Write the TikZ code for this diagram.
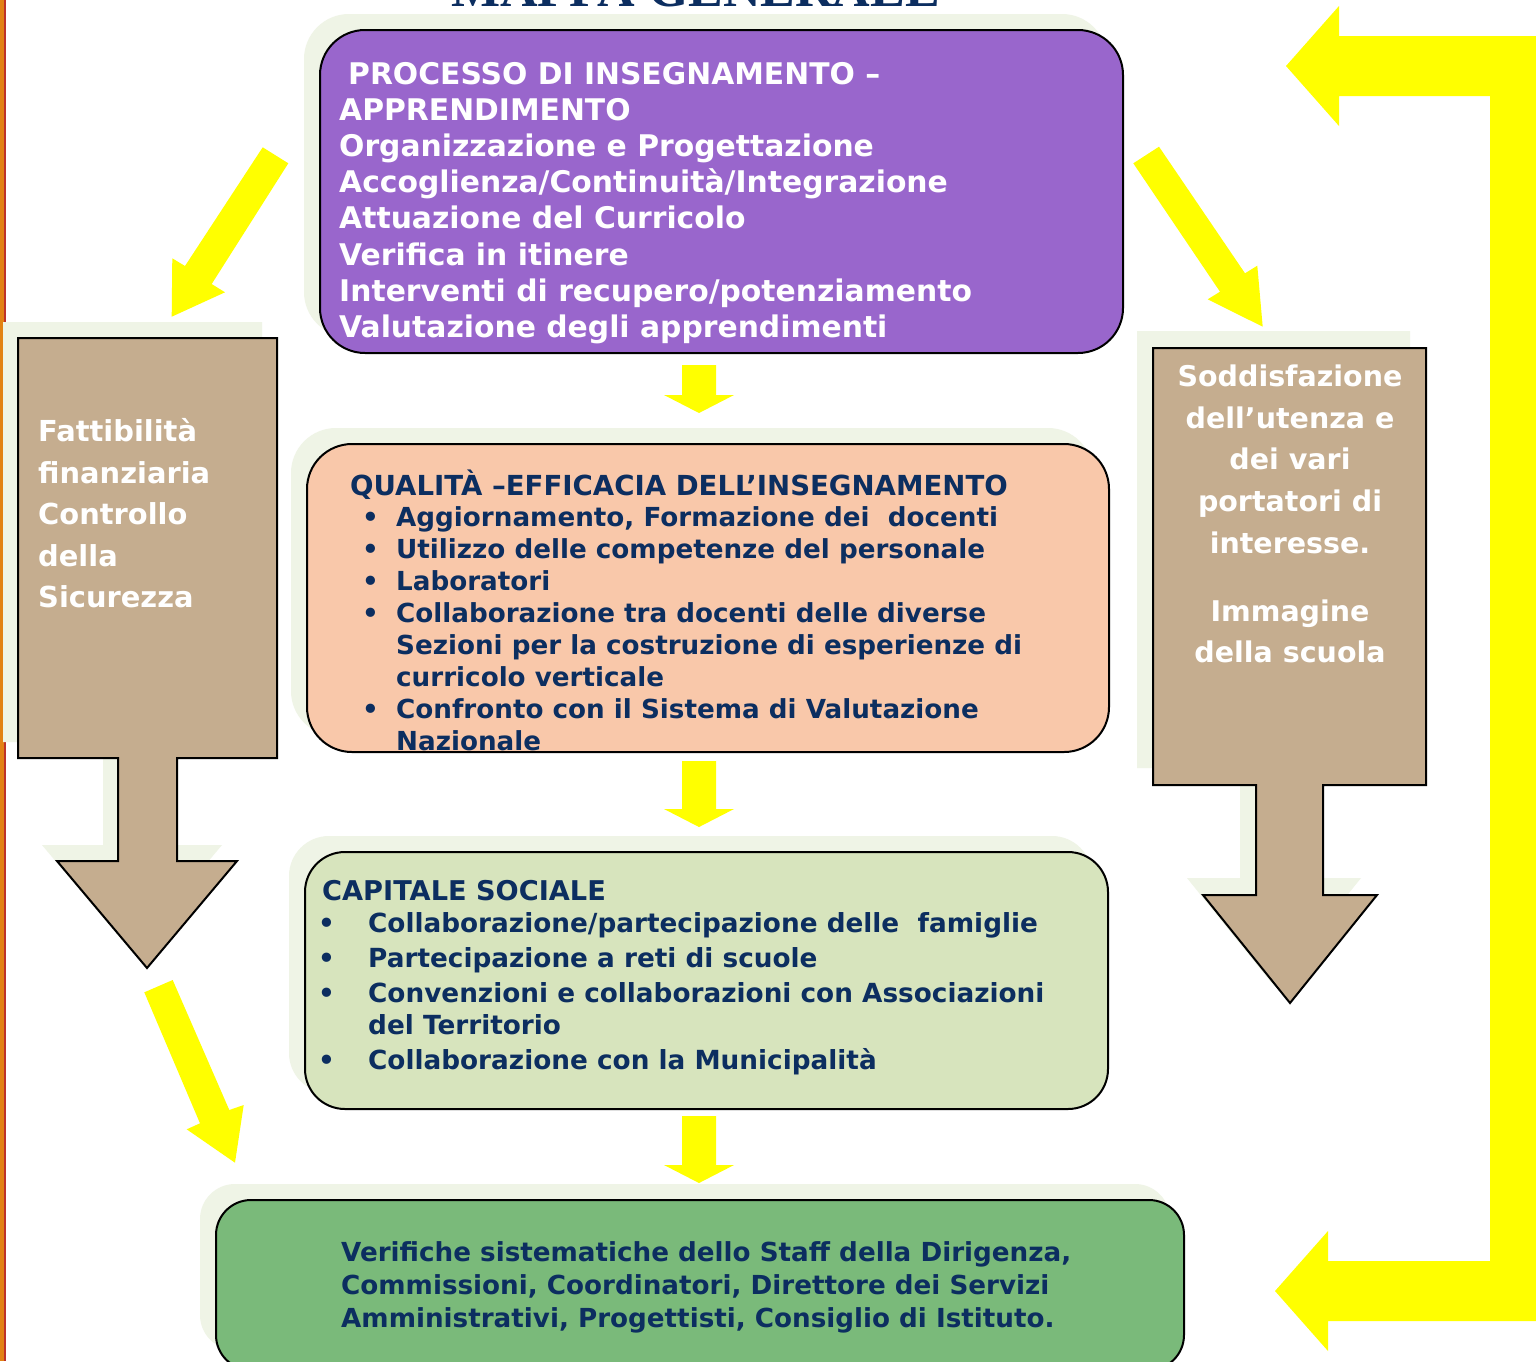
\documentclass[tikz,border=0pt]{standalone}
\usepackage{fontspec}
\setmainfont{DejaVu Sans}
\newfontfamily\titlefont{Liberation Serif}
\definecolor{navy}{RGB}{12,46,96}
\definecolor{purp}{RGB}{153,102,204}
\definecolor{peach}{RGB}{249,200,170}
\definecolor{sage}{RGB}{215,228,189}
\definecolor{leaf}{RGB}{122,186,122}
\definecolor{tan}{RGB}{197,173,143}
\definecolor{ghost}{RGB}{239,244,230}
\definecolor{yel}{RGB}{255,255,0}
\definecolor{stripe}{RGB}{226,130,20}
\definecolor{stripered}{RGB}{190,50,40}
\begin{document}
\begin{tikzpicture}[x=1pt,y=-1pt,
  box/.style={draw=black, line width=2pt, inner sep=0pt, rounded corners=#1},
  shade/.style={fill=ghost, rounded corners=#1},
  brown/.style={fill=tan, draw=black, line width=2pt, line join=miter},
  yarrow/.style={fill=yel},
  txt/.style={inner sep=0pt, anchor=north west, align=left}
]
\useasboundingbox (0,0) rectangle (1536,1361);
\fill[white] (0,0) rectangle (1536,1361);
\begin{scope}
\clip (0,0) rectangle (1536,1361);
% left stripe
\fill[stripe] (0,0) rectangle (4,1361);
\fill[stripered] (4,0) rectangle (5.5,1361);
% title (cut off at the top edge, as in the reference)
\node[anchor=base west, inner sep=0pt, text=navy,
  font=\titlefont\bfseries\fontsize{52}{52}\selectfont] (title) at (451,6) {MAPPA GENERALE};

% shadows of boxes
\fill[shade=45pt] (304,14) rectangle (1107,337);
\fill[shade=45pt] (291,428) rectangle (1093,736);
\fill[shade=40pt] (289,836) rectangle (1092,1093);
\fill[shade=35pt] (200,1184) rectangle (1170,1350);

% boxes
\node[box=45pt, fill=purp, minimum width=803pt, minimum height=323pt] (proc) at (721.5,191.5) {};
\node[box=45pt, fill=peach, minimum width=802pt, minimum height=308pt] (qual) at (708,598) {};
\node[box=40pt, fill=sage, minimum width=803pt, minimum height=257pt] (cap) at (706.5,980.5) {};
\node[box=35pt, fill=leaf, minimum width=968pt, minimum height=170pt] (verif) at (700,1285) {};

% brown arrows: shadows then shapes
\fill[ghost] (3,322) -- (262,322) -- (262,742) -- (162,742) -- (162,845) -- (222,845)
  -- (132,952) -- (42,845) -- (103,845) -- (103,742) -- (3,742) -- cycle;
\draw[brown] (18,338) -- (277,338) -- (277,758) -- (177,758) -- (177,861) -- (237,861)
  -- (147,968) -- (57,861) -- (118,861) -- (118,758) -- (18,758) -- cycle;
\fill[ghost] (1137,331) -- (1410,331) -- (1410,768) -- (1307,768) -- (1307,878) -- (1361,878)
  -- (1274,986) -- (1187,878) -- (1240,878) -- (1240,768) -- (1137,768) -- cycle;
\draw[brown] (1153,348) -- (1426,348) -- (1426,785) -- (1323,785) -- (1323,895) -- (1377,895)
  -- (1290,1003) -- (1203,895) -- (1256,895) -- (1256,785) -- (1153,785) -- cycle;

% small yellow down arrows
\fill[yarrow] (682,365) -- (716,365) -- (716,395) -- (734,395) -- (699,413) -- (664,395) -- (682,395) -- cycle;
\fill[yarrow] (682,761) -- (716,761) -- (716,809) -- (734,809) -- (699,827) -- (664,809) -- (682,809) -- cycle;
\fill[yarrow] (682,1116) -- (716,1116) -- (716,1165) -- (734,1165) -- (699,1183) -- (664,1165) -- (682,1165) -- cycle;

% diagonal yellow arrows
\fill[yarrow] (262.7,147.3) -- (288.3,163.3) -- (211.7,284) -- (225,292.3) -- (171.7,316.7)
  -- (172.3,258.3) -- (185,266) -- cycle;
\fill[yarrow] (1133.3,163.3) -- (1159,146.7) -- (1245,273.3) -- (1257.3,265.7) -- (1262.7,326.7)
  -- (1207.7,299.3) -- (1220,291.7) -- cycle;
\fill[yarrow] (144.3,992.3) -- (172.7,980) -- (229.3,1110) -- (243.7,1105) -- (235,1162.7)
  -- (186.7,1129.3) -- (200,1123.3) -- cycle;

% big yellow return arrow
\fill[yarrow] (1286,66) -- (1339,6) -- (1339,36) -- (1536,36) -- (1536,1321) -- (1328,1321)
  -- (1328,1351) -- (1275,1291) -- (1328,1231) -- (1328,1261) -- (1490,1261) -- (1490,96)
  -- (1339,96) -- (1339,126) -- cycle;

% texts
\node[txt, text=white, font=\bfseries\fontsize{29.8}{36.2}\selectfont] (proctxt) at (339,54.0)
 {\rule{0pt}{1em}\hspace*{9pt}PROCESSO DI INSEGNAMENTO –\\
  APPRENDIMENTO\\
  Organizzazione e Progettazione\\
  Accoglienza/Continuità/Integrazione\\
  Attuazione del Curricolo\\
  Verifica in itinere\\
  Interventi di recupero/potenziamento\\
  Valutazione degli apprendimenti};

\node[anchor=base west, inner sep=0pt, text=navy, font=\bfseries\fontsize{27.6}{32}\selectfont]
  (qualtitle) at (350,495) {QUALITÀ –EFFICACIA DELL’INSEGNAMENTO};
\node[txt, text=navy, font=\bfseries\fontsize{26.2}{32}\selectfont] (qualtxt) at (362,500.4)
 {\rule{0pt}{1em}\makebox[34pt][l]{•}Aggiornamento, Formazione dei~ docenti\\
  \makebox[34pt][l]{•}Utilizzo delle competenze del personale\\
  \makebox[34pt][l]{•}Laboratori\\
  \makebox[34pt][l]{•}Collaborazione tra docenti delle diverse\\
  \hspace*{34pt}Sezioni per la costruzione di esperienze di\\
  \hspace*{34pt}curricolo verticale\\
  \makebox[34pt][l]{•}Confronto con il Sistema di Valutazione\\
  \hspace*{34pt}Nazionale};

\node[anchor=base west, inner sep=0pt, text=navy, font=\bfseries\fontsize{27.2}{32}\selectfont]
  (captitle) at (322,900.9) {CAPITALE SOCIALE};
\node[txt, text=navy, font=\bfseries\fontsize{26.3}{32}\selectfont] (captxt) at (318,906.3)
 {\rule{0pt}{1em}\makebox[50pt][l]{•}Collaborazione/partecipazione delle~ famiglie\\[3pt]
  \makebox[50pt][l]{•}Partecipazione a reti di scuole\\[3pt]
  \makebox[50pt][l]{•}Convenzioni e collaborazioni con Associazioni\\
  \hspace*{50pt}del Territorio\\[3pt]
  \makebox[50pt][l]{•}Collaborazione con la Municipalità};

\node[txt, text=navy, font=\bfseries\fontsize{26.2}{33}\selectfont] (veriftxt) at (341,1235.3)
 {\rule{0pt}{1em}Verifiche sistematiche dello Staff della Dirigenza,\\
  Commissioni, Coordinatori, Direttore dei Servizi\\
  Amministrativi, Progettisti, Consiglio di Istituto.};

\node[txt, text=white, font=\bfseries\fontsize{28.9}{41.5}\selectfont] (lefttxt) at (38,412.6)
 {\rule{0pt}{1em}Fattibilità\\
  finanziaria\\
  Controllo\\
  della\\
  Sicurezza};

\node[inner sep=0pt, anchor=north, align=center, text=white, font=\bfseries\fontsize{28.5}{41.7}\selectfont]
  (righttxt) at (1290,357.8)
 {\rule{0pt}{1em}Soddisfazione\\
  dell’utenza e\\
  dei vari\\
  portatori di\\
  interesse.\\[26pt]
  Immagine\\
  della scuola};
\end{scope}
\end{tikzpicture}
\end{document}
